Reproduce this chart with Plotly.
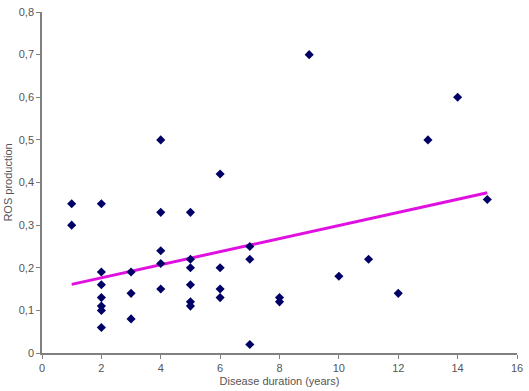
import plotly.graph_objects as go

duration = [1, 1,
            2, 2, 2, 2, 2, 2, 2,
            3, 3, 3,
            4, 4, 4, 4, 4,
            5, 5, 5, 5, 5, 5,
            6, 6, 6, 6,
            7, 7, 7,
            8, 8,
            9, 10, 11, 12, 13, 14, 15]
ros = [0.35, 0.30,
       0.35, 0.19, 0.16, 0.13, 0.11, 0.10, 0.06,
       0.19, 0.14, 0.08,
       0.50, 0.33, 0.24, 0.21, 0.15,
       0.33, 0.22, 0.20, 0.16, 0.12, 0.11,
       0.42, 0.20, 0.15, 0.13,
       0.25, 0.22, 0.02,
       0.13, 0.12,
       0.70, 0.18, 0.22, 0.14, 0.50, 0.60, 0.36]

trend_x = [1, 15]
trend_y = [0.161, 0.376]

x_ticks = [0, 2, 4, 6, 8, 10, 12, 14, 16]
y_ticks = [0, 0.1, 0.2, 0.3, 0.4, 0.5, 0.6, 0.7, 0.8]
y_tick_labels = ["0", "0,1", "0,2", "0,3", "0,4", "0,5", "0,6", "0,7", "0,8"]

fig = go.Figure()
fig.add_trace(go.Scatter(x=trend_x, y=trend_y, mode="lines",
                         line=dict(color="#e010e0", width=3), showlegend=False))
fig.add_trace(go.Scatter(x=duration, y=ros, mode="markers",
                         marker=dict(symbol="diamond", size=7, color="#000066"),
                         showlegend=False))

axis_font = dict(family="Liberation Sans, Arial, sans-serif", size=11, color="#555555")
fig.update_layout(
    width=529, height=391,
    margin=dict(l=42, r=12, t=12, b=38),
    plot_bgcolor="white", paper_bgcolor="white",
    font=axis_font,
    xaxis=dict(range=[0, 16], tickvals=x_ticks, showgrid=False, zeroline=False,
               automargin=False,
               showline=True, linecolor="#808080", linewidth=1.5,
               ticks="outside", ticklen=4, tickcolor="#808080",
               title=dict(text="Disease duration (years)", standoff=4,
                          font=dict(size=11, color="#555555"))),
    yaxis=dict(range=[0, 0.8], tickvals=y_ticks, ticktext=y_tick_labels,
               showgrid=False, zeroline=False, automargin=False,
               showline=True, linecolor="#808080", linewidth=1.5,
               ticks="outside", ticklen=4, tickcolor="#808080",
               title=dict(text="ROS production", standoff=4,
                          font=dict(size=11, color="#555555"))),
)
fig.write_html("out.html", config={"displayModeBar": False},
               post_script="document.body.style.margin='0';document.body.style.overflow='hidden';")
